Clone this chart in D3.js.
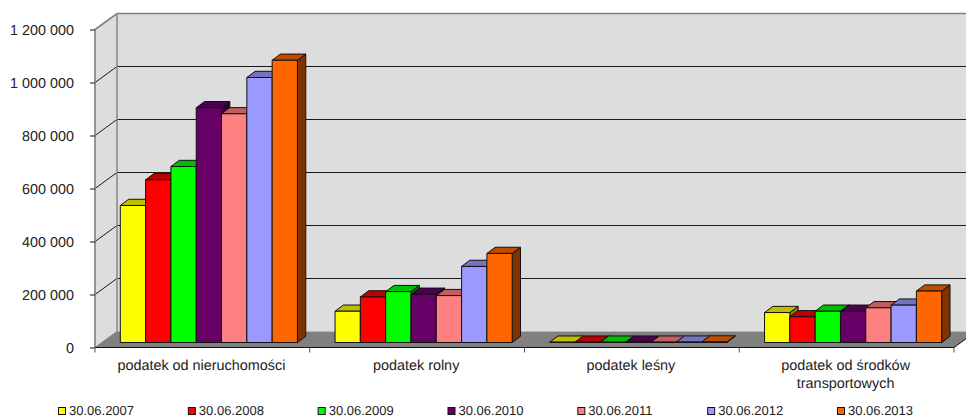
<!DOCTYPE html>
<html>
<head>
<meta charset="utf-8">
<script src="https://cdn.jsdelivr.net/npm/d3@7"></script>
<style>
  html, body { margin: 0; padding: 0; background: #fff; overflow: hidden; }
  svg { display: block; }
  text { font-family: "Liberation Sans", Arial, sans-serif; font-size: 14.4px; fill: #222; text-rendering: geometricPrecision; }
  .legend text { font-size: 13px; }
</style>
</head>
<body>
<div id="chart"></div>
<script>
// data
var categories = ["podatek od nieruchomości", "podatek rolny", "podatek leśny", "podatek od środków transportowych"];
var seriesNames = ["30.06.2007", "30.06.2008", "30.06.2009", "30.06.2010", "30.06.2011", "30.06.2012", "30.06.2013"];
var seriesColors = ["#ffff00", "#ff0000", "#00ff00", "#660066", "#ff8080", "#9999ff", "#ff6600"];
var nieruchomosci = [517000, 614000, 664000, 886000, 863000, 1000000, 1065000];
var rolny = [118000, 172000, 192000, 182000, 177000, 287000, 336000];
var lesny = [1200, 1300, 1200, 1300, 1400, 1500, 1900];
var transportowe = [113000, 97000, 118000, 118000, 131000, 141000, 194000];
var values = [nieruchomosci, rolny, lesny, transportowe];
var yTicks = [0, 200000, 400000, 600000, 800000, 1000000, 1200000];

var width = 966, height = 417;
var left = 95, right = 954, top3d = 29.5, base = 347.5;
var depthX = 22, depthY = 16;      // wall depth
var barShiftX = 6.5, barShiftY = 5;  // bars stand a bit in from the front of the floor
var barDX = 8.3, barDY = 6.2;      // bar depth

var svg = d3.select("#chart").append("svg").attr("width", width).attr("height", height);

var y = d3.scaleLinear().domain([0, 1200000]).range([base, top3d]);
var x0 = d3.scaleBand().domain(categories).range([left, right]);
var x1 = d3.scaleBand().domain(seriesNames).range([18.8, x0.bandwidth() - 18.8]);

var poly = function (pts) { return pts.map(function (p) { return p.join(","); }).join(" "); };

// walls
svg.append("rect").attr("x", left + depthX).attr("y", top3d - depthY)
  .attr("width", width - left - depthX + 2).attr("height", base - top3d)
  .attr("fill", "#dddddd");
svg.append("polygon")
  .attr("points", poly([[left, top3d], [left + depthX, top3d - depthY], [left + depthX, base - depthY], [left, base]]))
  .attr("fill", "#dddddd");

// floor
svg.append("polygon")
  .attr("points", poly([[left, base], [left + depthX, base - depthY], [right + depthX, base - depthY], [right, base]]))
  .attr("fill", "#808080");

// gridlines
var grid = svg.append("g").attr("fill", "none").attr("stroke", "#1a1a1a").attr("stroke-width", 1);
yTicks.slice(1, -1).forEach(function (t) {
  grid.append("path").attr("d", d3.line()([
    [left, y(t)], [left + depthX, y(t) - depthY], [width, y(t) - depthY]
  ]));
});

// frame of the walls
svg.append("path")
  .attr("d", d3.line()([[left, base], [left, top3d], [left + depthX, top3d - depthY], [width, top3d - depthY]]))
  .attr("fill", "none").attr("stroke", "#808080").attr("stroke-width", 1.6);
svg.append("path")
  .attr("d", d3.line()([[left + depthX, top3d - depthY], [left + depthX, base - depthY]]))
  .attr("fill", "none").attr("stroke", "#8c8c8c").attr("stroke-width", 1.6);
svg.append("path")
  .attr("d", d3.line()([[left, base], [left + depthX, base - depthY]]))
  .attr("fill", "none").attr("stroke", "#808080").attr("stroke-width", 1);

// bars, painted left to right so each front covers the neighbour's side
categories.forEach(function (cat, i) {
  var g = svg.append("g").attr("stroke", "#111").attr("stroke-width", 1).attr("stroke-linejoin", "round");
  seriesNames.forEach(function (name, j) {
    var col = d3.color(seriesColors[j]);
    var xa = x0(cat) + x1(name) + barShiftX, xb = xa + x1.bandwidth();
    var yb = y(0) - barShiftY, yt = y(values[i][j]) - barShiftY;
    g.append("polygon")
      .attr("points", poly([[xb, yt], [xb + barDX, yt - barDY], [xb + barDX, yb - barDY], [xb, yb]]))
      .attr("fill", d3.rgb(col.r * 0.5, col.g * 0.5, col.b * 0.5));
    g.append("polygon")
      .attr("points", poly([[xa, yt], [xa + barDX, yt - barDY], [xb + barDX, yt - barDY], [xb, yt]]))
      .attr("fill", d3.rgb(col.r * 0.75, col.g * 0.75, col.b * 0.75));
    g.append("rect").attr("x", xa).attr("y", yt)
      .attr("width", x1.bandwidth()).attr("height", yb - yt)
      .attr("fill", seriesColors[j]);
  });
});

// y axis
var pl = d3.formatLocale({ decimal: ",", thousands: "\u00a0", grouping: [3], currency: ["", ""] });
var yAxis = svg.append("g").attr("transform", "translate(" + left + ",0)")
  .call(d3.axisLeft(y).tickValues(yTicks).tickSize(5).tickPadding(16).tickFormat(pl.format(",d")));
yAxis.select(".domain").remove();
yAxis.selectAll("line").attr("stroke", "#111");
yAxis.selectAll("text").attr("fill", "#222").style("font-size", "14.4px").style("font-family", "'Liberation Sans', Arial, sans-serif");

// x axis: baseline and ticks at the band edges
svg.append("path").attr("d", d3.line()([[left, base], [right, base], [right + depthX, base - depthY]]))
  .attr("fill", "none").attr("stroke", "#111");
var xTicks = categories.map(function (c) { return x0(c); }).concat([right]);
svg.selectAll(".xtick").data(xTicks).enter().append("line").attr("class", "xtick")
  .attr("x1", function (d) { return d; }).attr("x2", function (d) { return d; })
  .attr("y1", base).attr("y2", base + 5).attr("stroke", "#555");

// category labels, wrapped by hand like the original
var catLines = [["podatek od nieruchomości"], ["podatek rolny"], ["podatek leśny"], ["podatek od środków", "transportowych"]];
categories.forEach(function (cat, i) {
  var t = svg.append("text").attr("text-anchor", "middle")
    .attr("x", x0(cat) + x0.bandwidth() / 2 - 1).attr("y", 370);
  catLines[i].forEach(function (line, k) {
    t.append("tspan").attr("x", x0(cat) + x0.bandwidth() / 2 - 1).attr("dy", k ? 18 : 0).text(line);
  });
});

// legend
var legendX = d3.scalePoint().domain(seriesNames).range([58, 837]);
var legend = svg.selectAll(".legend").data(seriesNames).enter().append("g").attr("class", "legend")
  .attr("transform", function (d) { return "translate(" + legendX(d) + ",407)"; });
legend.append("rect").attr("x", 0.5).attr("y", 0.5).attr("width", 7).attr("height", 7)
  .attr("stroke", "#111").attr("fill", function (d, i) { return seriesColors[i]; });
legend.append("text").attr("x", 11).attr("y", 8).text(function (d) { return d; });
</script>
</body>
</html>
